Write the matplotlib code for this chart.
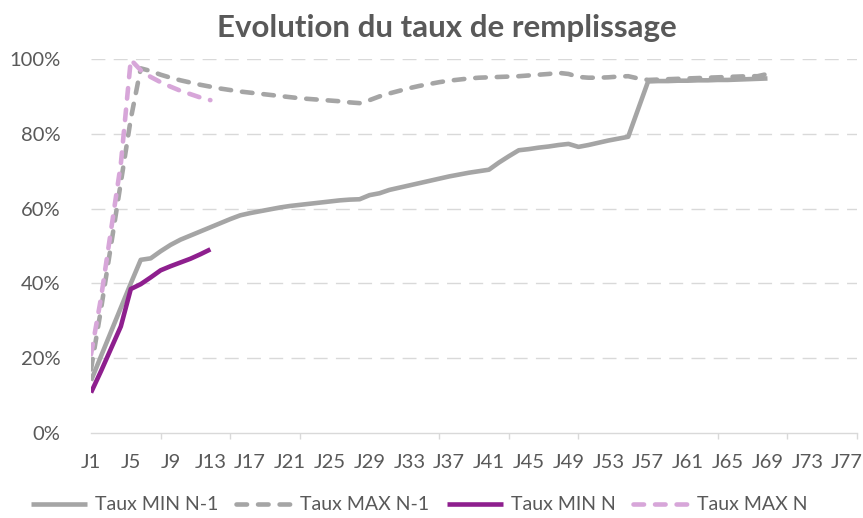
import matplotlib
matplotlib.use("Agg")
import matplotlib.pyplot as plt
from matplotlib.ticker import FixedLocator, PercentFormatter

plt.rcParams['font.family'] = ['Lato', 'DejaVu Sans']

title = "Evolution du taux de remplissage"
n_days = 78
day_labels = [f"J{i}" for i in range(1, n_days + 1)]

series_names = ["Taux MIN N-1", "Taux MAX N-1", "Taux MIN N", "Taux MAX N"]

min_n1 = [14.0, 20.5, 27.0, 33.5, 40.0, 46.3, 46.7, 48.6, 50.3, 51.7,
          52.8, 53.9, 55.0, 56.1, 57.2, 58.2, 58.8, 59.3, 59.8, 60.3,
          60.7, 61.0, 61.3, 61.6, 61.9, 62.2, 62.4, 62.5, 63.6, 64.1,
          65.0, 65.6, 66.2, 66.8, 67.4, 68.0, 68.6, 69.1, 69.6, 70.0,
          70.4, 72.3, 74.0, 75.6, 75.9, 76.3, 76.6, 77.0, 77.3, 76.5,
          77.0, 77.6, 78.2, 78.7, 79.2, 86.6, 94.0, 94.1, 94.1, 94.2,
          94.2, 94.3, 94.3, 94.4, 94.4, 94.5, 94.6, 94.7, 94.8]
max_n1 = [17.0, 33.0, 50.0, 67.0, 84.0, 97.5, 96.8, 95.8, 95.0, 94.3,
          93.7, 93.1, 92.6, 92.1, 91.7, 91.3, 91.0, 90.7, 90.4, 90.1,
          89.8, 89.5, 89.3, 89.1, 88.9, 88.7, 88.4, 88.2, 89.0, 90.0,
          90.8, 91.5, 92.2, 92.8, 93.3, 93.8, 94.2, 94.5, 94.8, 95.0,
          95.1, 95.2, 95.3, 95.4, 95.6, 95.8, 96.0, 96.3, 96.0, 95.2,
          95.0, 95.0, 95.1, 95.3, 95.4, 94.8, 94.4, 94.5, 94.6, 94.7,
          94.8, 94.9, 95.0, 95.1, 95.2, 95.3, 95.4, 95.4, 96.0]
min_n = [10.8, 16.5, 22.5, 28.5, 38.5, 39.8, 41.6, 43.5, 44.6, 45.6,
         46.6, 47.8, 49.1]
max_n = [21.0, 36.0, 54.0, 72.0, 99.8, 97.0, 95.2, 93.8, 92.6, 91.5,
         90.6, 89.7, 89.0]

gray = "#A5A5A5"
purple = "#8E1F8E"
pink = "#D7A6D9"
txt = "#595959"
grid = "#D9D9D9"

fig = plt.figure(figsize=(8.63, 5.18), dpi=100)
ax = fig.add_axes([91 / 863, 1 - 433 / 518, 766 / 863, 374 / 518])

lw = 3.3
dash = (0, (2.3, 2.4))
ax.plot(range(len(min_n1)), min_n1, color=gray, lw=lw, solid_capstyle='butt',
        solid_joinstyle='round', label=series_names[0])
ax.plot(range(len(max_n1)), max_n1, color=gray, lw=lw, linestyle=dash,
        dash_capstyle='round', dash_joinstyle='round', label=series_names[1])
ax.plot(range(len(min_n)), min_n, color=purple, lw=lw, solid_capstyle='butt',
        solid_joinstyle='round', label=series_names[2])
ax.plot(range(len(max_n)), max_n, color=pink, lw=lw, linestyle=dash,
        dash_capstyle='round', dash_joinstyle='round', label=series_names[3])

ax.set_xlim(0, n_days - 1)
ax.set_ylim(0, 100)

ax.xaxis.set_major_locator(FixedLocator(list(range(0, n_days, 4))))
ax.set_xticklabels([day_labels[i] for i in range(0, n_days, 4)])
ax.xaxis.set_minor_locator(FixedLocator(list(range(0, n_days, 7))))
ax.tick_params(axis='x', which='major', length=0, pad=15, labelsize=14.5, labelcolor=txt)
ax.tick_params(axis='x', which='minor', length=4, width=1, color=grid, direction='out')

ax.set_yticks([0, 20, 40, 60, 80, 100])
ax.yaxis.set_major_formatter(PercentFormatter(decimals=0))
ax.tick_params(axis='y', length=0, pad=22, labelsize=14.5, labelcolor=txt)

for v in [20, 40, 60, 80, 100]:
    ax.axhline(v, color=grid, lw=1, linestyle=(0, (10, 6)), zorder=0)

for s in ['top', 'right', 'left']:
    ax.spines[s].set_visible(False)
ax.spines['bottom'].set_color(grid)
ax.spines['bottom'].set_linewidth(1)

fig.text(447 / 863, 1 - 28 / 518, title, ha='center', va='center',
         fontsize=22.5, fontweight='bold', color=txt)

leg = fig.legend(loc='center', bbox_to_anchor=(0.486, 1 - 505 / 518), ncol=4,
                 frameon=False, fontsize=14, labelcolor=txt, handlelength=2.9,
                 handletextpad=0.4, columnspacing=0.9)

fig.savefig("out.png", dpi=100)
